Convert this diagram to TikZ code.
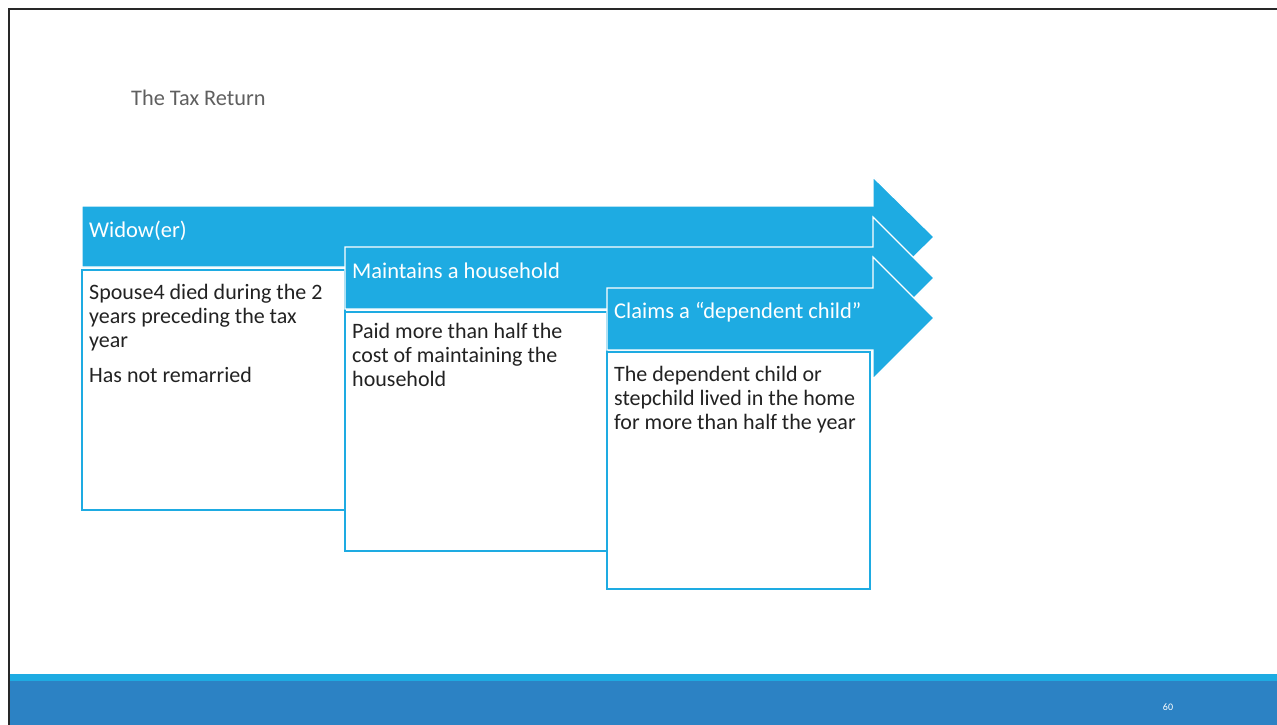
\documentclass[tikz,border=0pt]{standalone}
\usepackage{fontspec}
\setmainfont{Carlito}
\definecolor{arrowblue}{RGB}{30,171,226}
\definecolor{footdark}{RGB}{44,130,196}
\definecolor{txtgray}{RGB}{34,34,34}
\definecolor{titlegray}{RGB}{95,95,95}
\tikzset{
  arrowshape/.style={fill=arrowblue, draw=white, line width=1.2pt, line join=miter},
  boxshape/.style={fill=white, draw=arrowblue, line width=1.3pt},
  headtext/.style={text=white, font=\fontsize{22.5}{24}\selectfont, anchor=base west, inner sep=0pt},
  bodytext/.style={text=txtgray, font=\fontsize{22}{24}\selectfont, anchor=north west, inner sep=0pt, align=left}
}
\begin{document}
\begin{tikzpicture}[x=1pt,y=-1pt]
\useasboundingbox (0,0) rectangle (1277,725);
\fill[white] (0,0) rectangle (1277,725);
% frame
\draw[line width=2.5pt, draw={rgb,255:red,40;green,40;blue,40}] (9,725) -- (9,9) -- (1277,9);
% footer
\fill[arrowblue] (10,674) rectangle (1277,681);
\fill[footdark] (10,681) rectangle (1277,725);
\node[text=white, font=\fontsize{10}{11}\selectfont, inner sep=0pt] (pagenum) at (1168,707) {60};
% title
\node[text=titlegray, font=\fontsize{22.3}{24}\selectfont, anchor=base west, inner sep=0pt] (title) at (131,105) {The Tax Return};
% arrow 1
\draw[arrowshape] (82,206) -- (873,206) -- (873,177) -- (934,237) -- (873,297) -- (873,267) -- (82,267) -- cycle;
\node[headtext] (h1) at (89,237) {Widow(er)};
\draw[boxshape] (82,270) rectangle (345,510);
\node[bodytext] (b1) at (89,284) {Spouse4 died during the 2\\ years preceding the tax\\ year\\[11pt]Has not remarried};
% arrow 2
\draw[arrowshape] (345,247) -- (873,247) -- (873,217) -- (934,278) -- (873,339) -- (873,309) -- (345,309) -- cycle;
\node[headtext] (h2) at (352,278) {Maintains a household};
\draw[boxshape] (345,312) rectangle (607,551);
\node[bodytext] (b2) at (352,323) {Paid more than half the\\ cost of maintaining the\\ household};
% arrow 3
\draw[arrowshape] (607,288) -- (873,288) -- (873,257) -- (934,318) -- (873,379) -- (873,350) -- (607,350) -- cycle;
\node[headtext] (h3) at (614,318) {Claims a “dependent child”};
\draw[boxshape] (607,352) rectangle (870,589);
\node[bodytext] (b3) at (614,366) {The dependent child or\\ stepchild lived in the home\\ for more than half the year};
\end{tikzpicture}
\end{document}
